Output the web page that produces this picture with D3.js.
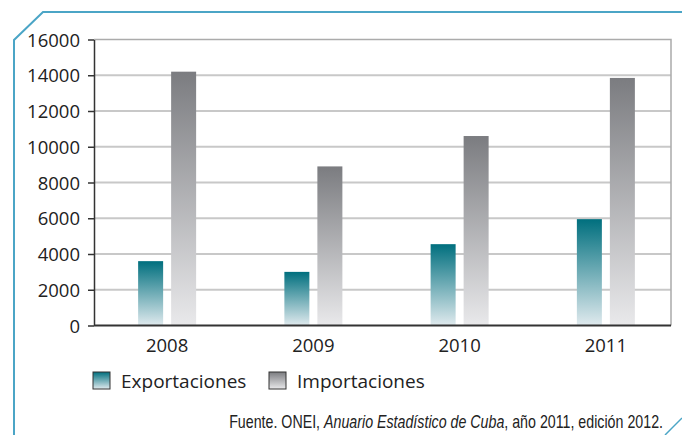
<!DOCTYPE html>
<html>
<head>
<meta charset="utf-8">
<script src="https://cdn.jsdelivr.net/npm/d3@7"></script>
<style>
  body { margin: 0; background: #fff; }
  svg { display: block; font-family: "Open Sans", sans-serif; }
</style>
</head>
<body>
<svg id="chart"></svg>
<script>
// Data
const years = ["2008", "2009", "2010", "2011"];
const series = ["Exportaciones", "Importaciones"];
const exportaciones = [3600, 3000, 4550, 5950];
const importaciones = [14200, 8900, 10600, 13850];
const yTicks = [0, 2000, 4000, 6000, 8000, 10000, 12000, 14000, 16000];

let width = 682;
let height = 435;

let margin = { top: 39.5, right: 11, bottom: 109.5, left: 94 };

let svg = d3.select("#chart")
    .attr("width", width)
    .attr("height", height);

let rows = years.map((y, i) => ({ year: y, values: [exportaciones[i], importaciones[i]] }));

// Gradients
let defs = svg.append("defs");
let grads = [
    { id: "gExp", top: "#006f7e", bottom: "#e0eaee" },
    { id: "gImp", top: "#7b7c80", bottom: "#e9e9eb" }
];
grads.forEach(g => {
    let lg = defs.append("linearGradient")
        .attr("id", g.id)
        .attr("x1", 0).attr("y1", 0).attr("x2", 0).attr("y2", 1);
    lg.append("stop").attr("offset", "0%").attr("stop-color", g.top);
    lg.append("stop").attr("offset", "100%").attr("stop-color", g.bottom);
});

// Scales
let plotRight = width - margin.right;
let yScale = d3.scaleLinear()
    .domain([0, 16000])
    .range([height - margin.bottom, margin.top]);

let x0 = d3.scaleBand()
    .domain(years)
    .range([margin.left, 679]);

let x1 = d3.scaleBand()
    .domain(series)
    .range([0, 58])
    .paddingInner(0.2424);

// Gridlines
svg.append("g")
    .selectAll("line")
    .data(yTicks.filter(d => d > 0 && d < 16000))
    .enter().append("line")
    .attr("x1", margin.left)
    .attr("x2", plotRight)
    .attr("y1", d => yScale(d))
    .attr("y2", d => yScale(d))
    .attr("stroke", "#c8c8c8")
    .attr("stroke-width", 2);

// Top and right border of plot area
svg.append("path")
    .attr("d", `M${margin.left},${yScale(16000)}H${plotRight}V${yScale(0)}`)
    .attr("fill", "none")
    .attr("stroke", "#ababab")
    .attr("stroke-width", 1.5);

// Bars
let groups = svg.append("g")
    .selectAll("g")
    .data(rows)
    .enter().append("g")
    .attr("transform", d => `translate(${x0(d.year) + x0.bandwidth() / 2 - 29},0)`);

groups.selectAll("rect")
    .data(d => d.values.map((v, i) => ({ key: series[i], value: v })))
    .enter().append("rect")
    .attr("x", d => x1(d.key))
    .attr("width", x1.bandwidth())
    .attr("y", d => yScale(d.value))
    .attr("height", d => yScale(0) - yScale(d.value))
    .attr("fill", (d, i) => i === 0 ? "url(#gExp)" : "url(#gImp)");

// Y axis
let yAxis = svg.append("g")
    .attr("transform", `translate(${margin.left},0)`)
    .call(d3.axisLeft(yScale).tickValues(yTicks).tickSize(6).tickSizeOuter(0).tickFormat(d3.format("d")));
yAxis.select(".domain").attr("stroke", "#333").attr("stroke-width", 1.5);
yAxis.selectAll(".tick line").attr("stroke", "#333").attr("stroke-width", 1.5);
yAxis.selectAll(".tick text")
    .attr("x", -14)
    .attr("dy", "0.36em")
    .style("font-family", "'Open Sans', sans-serif")
    .style("font-size", "18.5px")
    .attr("fill", "#222");

// X axis baseline
svg.append("line")
    .attr("x1", margin.left)
    .attr("x2", plotRight)
    .attr("y1", yScale(0))
    .attr("y2", yScale(0))
    .attr("stroke", "#333")
    .attr("stroke-width", 2);

// X axis labels
let xAxis = svg.append("g")
    .attr("transform", `translate(0, ${yScale(0)})`)
    .call(d3.axisBottom(x0).tickSize(0));
xAxis.select(".domain").remove();
xAxis.selectAll(".tick text")
    .attr("y", 13)
    .attr("dy", "0.71em")
    .style("font-family", "'Open Sans', sans-serif")
    .style("font-size", "18.5px")
    .attr("fill", "#222");

// Legend
let legendX = [93, 269];
let legend = svg.append("g")
    .selectAll("g")
    .data(series)
    .enter().append("g")
    .attr("transform", (d, i) => `translate(${legendX[i]},372)`);
legend.append("rect")
    .attr("width", 17)
    .attr("height", 17)
    .attr("fill", (d, i) => i === 0 ? "url(#gExp)" : "url(#gImp)")
    .attr("stroke", "#333")
    .attr("stroke-width", 1);
legend.append("text")
    .attr("x", 28)
    .attr("y", 16)
    .style("font-size", "19px")
    .attr("fill", "#222")
    .text(d => d);

// Source note (condensed look: squeeze horizontally to fit)
let noteG = svg.append("g");
let note = noteG.append("text")
    .attr("x", 0)
    .attr("y", 0)
    .attr("text-anchor", "end")
    .style("font-family", "'Liberation Sans', sans-serif")
    .style("font-size", "18px")
    .attr("fill", "#222");
note.append("tspan").text("Fuente. ONEI, ");
note.append("tspan").style("font-style", "italic").text("Anuario Estadístico de Cuba");
note.append("tspan").text(", año 2011, edición 2012.");
let noteLen = note.node().getComputedTextLength();
noteG.attr("transform", `translate(663,428) scale(${434 / noteLen},1)`);

// Decorative frame
svg.append("path")
    .attr("d", "M14,435V40L43,12H682")
    .attr("fill", "none")
    .attr("stroke", "#4ba5c6")
    .attr("stroke-width", 2);
svg.append("path")
    .attr("d", "M665,435L682,418")
    .attr("fill", "none")
    .attr("stroke", "#4ba5c6")
    .attr("stroke-width", 1.5);
</script>
</body>
</html>
